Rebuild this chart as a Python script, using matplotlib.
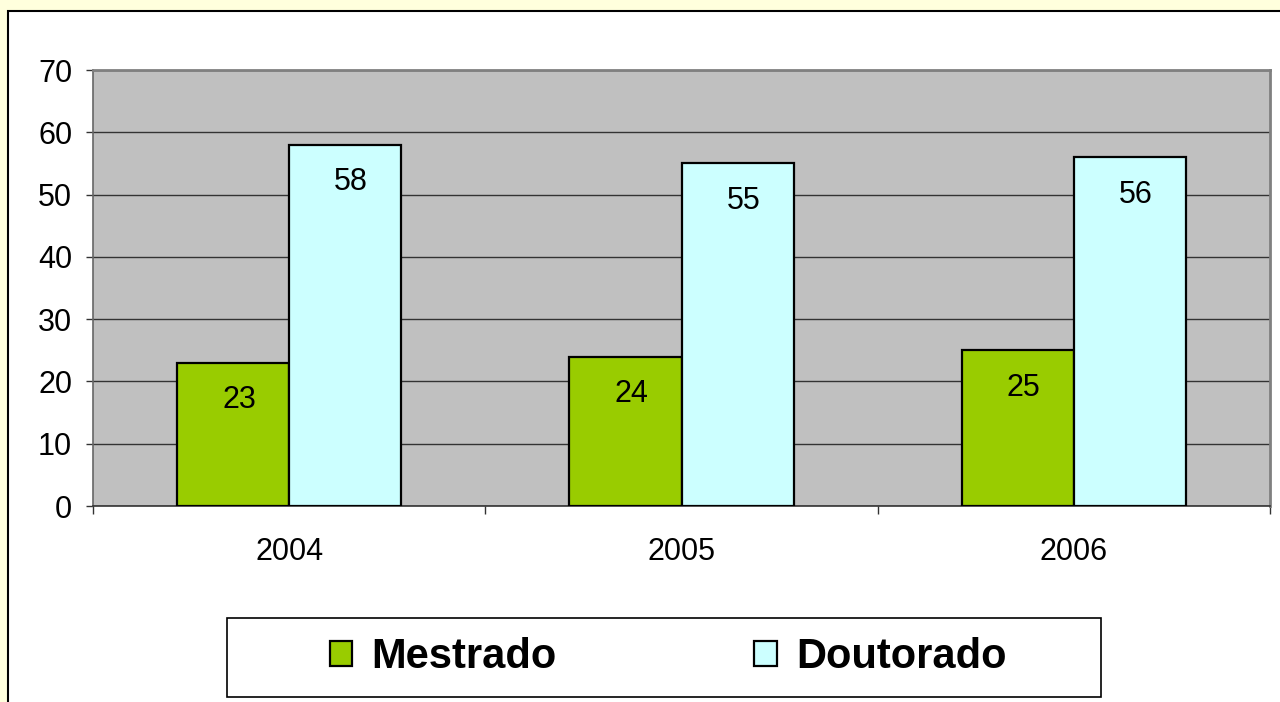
import matplotlib
matplotlib.use("Agg")
import matplotlib.pyplot as plt
from matplotlib.patches import Rectangle, Patch

# data
years = ["2004", "2005", "2006"]
mestrado = [23, 24, 25]
doutorado = [58, 55, 56]
series_names = ["Mestrado", "Doutorado"]
yticks = [0, 10, 20, 30, 40, 50, 60, 70]

GREEN = "#99CC00"
CYAN = "#CCFFFF"
PLOT_BG = "#C0C0C0"

plt.rcParams["font.family"] = ["Liberation Sans", "DejaVu Sans"]

W, H = 1280, 702
fig = plt.figure(figsize=(W / 100, H / 100), dpi=100)
fig.patch.set_facecolor("#FFFFDD")

# white chart panel with black border, running off the right/bottom edges
fig.patches.append(Rectangle((8 / W, -0.05), 1.2, (H - 11) / H + 0.05,
                             transform=fig.transFigure, facecolor="white",
                             edgecolor="black", linewidth=1.5, zorder=-10))

ax = fig.add_axes([93 / W, (H - 506) / H, (1270 - 93) / W, (506 - 70) / H])
ax.set_facecolor(PLOT_BG)

x = list(range(len(years)))
bw = 0.286
ax.bar([i - bw / 2 for i in x], mestrado, width=bw, color=GREEN,
       edgecolor="black", linewidth=1.6, zorder=3)
ax.bar([i + bw / 2 for i in x], doutorado, width=bw, color=CYAN,
       edgecolor="black", linewidth=1.6, zorder=3)

for i in x:
    ax.text(i - bw / 2 + 0.015, mestrado[i] - 6.0, str(mestrado[i]),
            ha="center", va="center", fontsize=22, zorder=4)
    ax.text(i + bw / 2 + 0.015, doutorado[i] - 6.0, str(doutorado[i]),
            ha="center", va="center", fontsize=22, zorder=4)

ax.set_xlim(-0.5, len(years) - 0.5)
ax.set_ylim(0, 70)
ax.set_yticks(yticks)
ax.yaxis.grid(True, color="#333333", linewidth=1.0, zorder=1)
ax.set_axisbelow(True)

ax.set_xticks(x)
ax.set_xticklabels(years)
ax.set_xticks([-0.5, 0.5, 1.5, 2.5], minor=True)
ax.tick_params(axis="x", which="major", length=0, pad=22, labelsize=22)
ax.tick_params(axis="x", which="minor", length=6, width=1, color="#333333")
ax.tick_params(axis="y", length=5, width=1, color="#333333", pad=10,
               labelsize=22)

for side in ["top", "right", "left"]:
    ax.spines[side].set_color("#808080")
    ax.spines[side].set_linewidth(2)
ax.spines["left"].set_color("#666666")
ax.spines["left"].set_linewidth(1.2)
ax.spines["bottom"].set_color("#333333")
ax.spines["bottom"].set_linewidth(1.2)

# legend box
fig.patches.append(Rectangle((227 / W, (H - 697) / H), (1101 - 227) / W,
                             (697 - 618) / H, transform=fig.transFigure,
                             facecolor="white", edgecolor="black",
                             linewidth=1.2, zorder=1))
handles = [Patch(facecolor=GREEN, edgecolor="black", linewidth=1.6),
           Patch(facecolor=CYAN, edgecolor="black", linewidth=1.6)]
leg = fig.legend(handles, series_names, loc="center",
                 bbox_to_anchor=(668 / W, (H - 657) / H), ncol=2,
                 frameon=False, handlelength=0.55, handleheight=0.55,
                 handletextpad=0.45, columnspacing=4.75,
                 prop={"weight": "bold", "size": 30})
leg.set_zorder(2)

fig.savefig("out.png", dpi=100, facecolor=fig.get_facecolor())
